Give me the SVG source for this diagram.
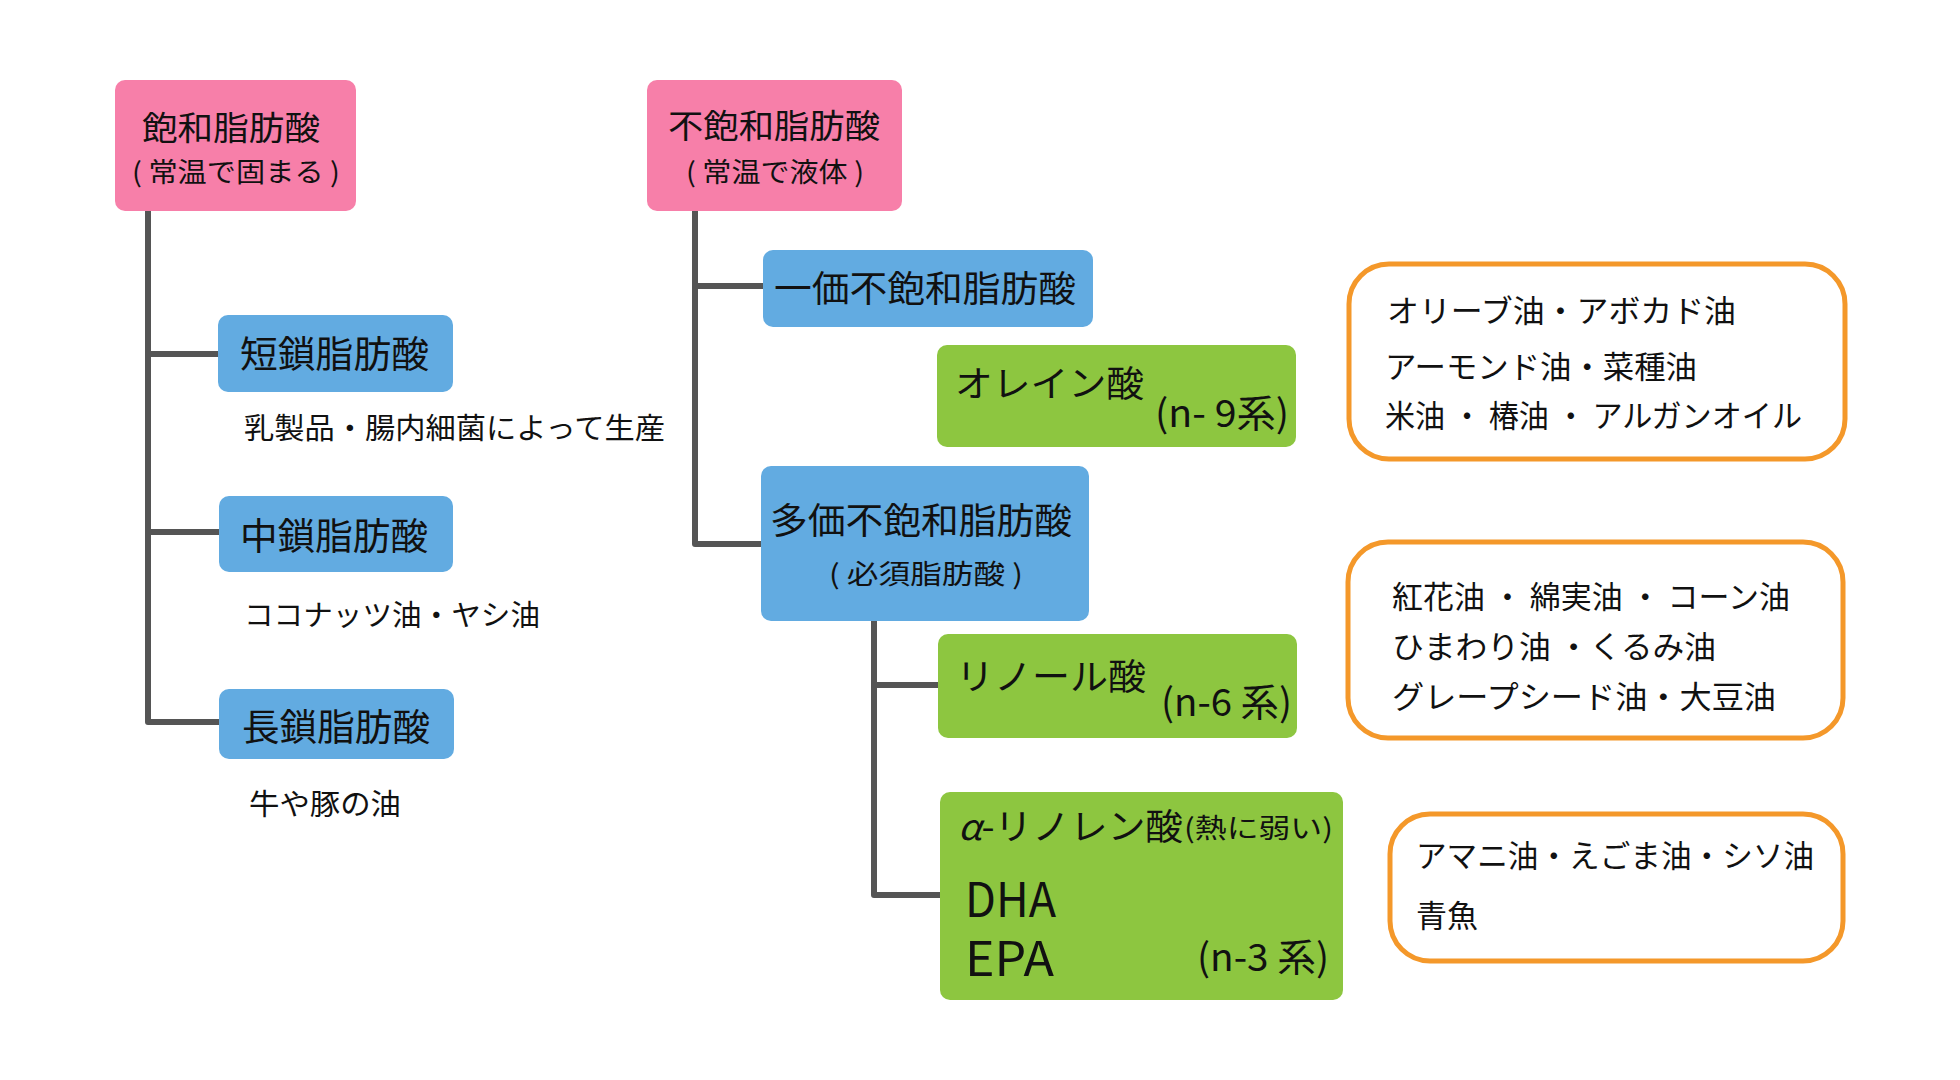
<svg xmlns="http://www.w3.org/2000/svg" width="1960" height="1080" viewBox="0 0 1960 1080">
<style>
text{font-family:"Noto Sans CJK JP","Noto Sans",sans-serif;fill:#111}
.pink{fill:#F77FA9}
.blue{fill:#62ABE1}
.green{fill:#8DC640}
.orange{fill:#fff;stroke:#F4982A;stroke-width:5}
.conn{fill:none;stroke:#555;stroke-width:6;stroke-linejoin:round}
</style>
<rect width="1960" height="1080" fill="#fff"/>
<g id="connectors">
<path class="conn" d="M148 211 V722 H221 M148 354 H220 M148 532 H221"/>
<path class="conn" d="M695 211 V544 H763 M695 286 H765"/>
<path class="conn" d="M874 621 V895 H942 M874 685 H940"/>
</g>
<g id="saturated">
<rect class="pink" x="115" y="80" width="241" height="131" rx="10"/>
<text x="142" y="140" font-size="33" textLength="178" lengthAdjust="spacingAndGlyphs">飽和脂肪酸</text>
<text x="132" y="182" font-size="27" textLength="208" lengthAdjust="spacingAndGlyphs">( 常温で固まる )</text>
</g>
<g id="unsaturated">
<rect class="pink" x="647" y="80" width="255" height="131" rx="10"/>
<text x="668" y="138" font-size="33" textLength="212" lengthAdjust="spacingAndGlyphs">不飽和脂肪酸</text>
<text x="686" y="182" font-size="27" textLength="178" lengthAdjust="spacingAndGlyphs">( 常温で液体 )</text>
</g>
<g id="short">
<rect class="blue" x="218" y="315" width="235" height="77" rx="10"/>
<text x="240" y="368" font-size="37" textLength="189" lengthAdjust="spacingAndGlyphs">短鎖脂肪酸</text>
<text x="244" y="439" font-size="29" textLength="421" lengthAdjust="spacingAndGlyphs">乳製品・腸内細菌によって生産</text>
</g>
<g id="medium">
<rect class="blue" x="219" y="496" width="234" height="76" rx="10"/>
<text x="240" y="550" font-size="37" textLength="188" lengthAdjust="spacingAndGlyphs">中鎖脂肪酸</text>
<text x="244" y="626" font-size="29" textLength="296" lengthAdjust="spacingAndGlyphs">ココナッツ油・ヤシ油</text>
</g>
<g id="long">
<rect class="blue" x="219" y="689" width="235" height="70" rx="10"/>
<text x="242" y="741" font-size="37" textLength="188" lengthAdjust="spacingAndGlyphs">長鎖脂肪酸</text>
<text x="249" y="815" font-size="29" textLength="152" lengthAdjust="spacingAndGlyphs">牛や豚の油</text>
</g>
<g id="mono">
<rect class="blue" x="763" y="250" width="330" height="77" rx="10"/>
<text x="774" y="302" font-size="36" textLength="302" lengthAdjust="spacingAndGlyphs">一価不飽和脂肪酸</text>
</g>
<g id="oleic">
<rect class="green" x="937" y="345" width="359" height="102" rx="10"/>
<text x="955" y="397" font-size="36" textLength="189" lengthAdjust="spacingAndGlyphs">オレイン酸</text>
<text x="1155" y="427" font-size="38" textLength="134" lengthAdjust="spacingAndGlyphs">(n- 9系)</text>
</g>
<g id="poly">
<rect class="blue" x="761" y="466" width="328" height="155" rx="10"/>
<text x="770" y="534" font-size="36" textLength="302" lengthAdjust="spacingAndGlyphs">多価不飽和脂肪酸</text>
<text x="829" y="584" font-size="27" textLength="194" lengthAdjust="spacingAndGlyphs">( 必須脂肪酸 )</text>
</g>
<g id="linoleic">
<rect class="green" x="938" y="634" width="359" height="104" rx="10"/>
<text x="956" y="690" font-size="36" textLength="190" lengthAdjust="spacingAndGlyphs">リノール酸</text>
<text x="1161" y="716" font-size="38" textLength="131" lengthAdjust="spacingAndGlyphs">(n-6 系)</text>
</g>
<g id="alpha">
<rect class="green" x="940" y="792" width="403" height="208" rx="10"/>
<text x="958" y="840" font-size="36" textLength="225" lengthAdjust="spacingAndGlyphs"><tspan font-style="italic">α</tspan>-リノレン酸</text>
<text x="1184" y="838" font-size="27" textLength="149" lengthAdjust="spacingAndGlyphs">(熱に弱い)</text>
<text x="965" y="917" font-size="48" textLength="91" lengthAdjust="spacingAndGlyphs">DHA</text>
<text x="965" y="976" font-size="48" textLength="89" lengthAdjust="spacingAndGlyphs">EPA</text>
<text x="1197" y="971" font-size="38" textLength="132" lengthAdjust="spacingAndGlyphs">(n-3 系)</text>
</g>
<g id="oils-mono">
<rect class="orange" x="1349" y="264" width="496" height="195" rx="40"/>
<text x="1387" y="322" font-size="31" textLength="349" lengthAdjust="spacingAndGlyphs">オリーブ油・アボカド油</text>
<text x="1385" y="378" font-size="31" textLength="312" lengthAdjust="spacingAndGlyphs">アーモンド油・菜種油</text>
<text x="1385" y="427" font-size="31" textLength="417" lengthAdjust="spacingAndGlyphs">米油 ・ 椿油 ・ アルガンオイル</text>
</g>
<g id="oils-n6">
<rect class="orange" x="1348" y="542" width="495" height="196" rx="40"/>
<text x="1392" y="608" font-size="31" textLength="398" lengthAdjust="spacingAndGlyphs">紅花油 ・ 綿実油 ・ コーン油</text>
<text x="1392" y="658" font-size="31" textLength="324" lengthAdjust="spacingAndGlyphs">ひまわり油 ・くるみ油</text>
<text x="1392" y="708" font-size="31" textLength="384" lengthAdjust="spacingAndGlyphs">グレープシード油・大豆油</text>
</g>
<g id="oils-n3">
<rect class="orange" x="1390" y="814" width="453" height="147" rx="40"/>
<text x="1416" y="867" font-size="31" textLength="398" lengthAdjust="spacingAndGlyphs">アマニ油・えごま油・シソ油</text>
<text x="1416" y="927" font-size="31" textLength="62" lengthAdjust="spacingAndGlyphs">青魚</text>
</g>
</svg>
